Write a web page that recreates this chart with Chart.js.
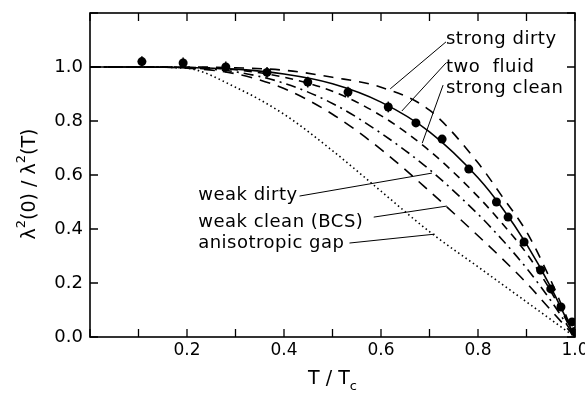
<!DOCTYPE html>
<html lang="en">
<head>
  <meta charset="UTF-8" />
  <title>Penetration depth vs temperature</title>
  <script src="https://cdn.jsdelivr.net/npm/chart.js"></script>
  <style>
    body { margin: 0; background: #fff; }
    #wrap { width: 585px; height: 397px; }
  </style>
</head>
<body>
  <div id="wrap"><canvas id="lambdaChart"></canvas></div>

  <script>
    // Reduced temperature grid used by the model curves
    const curveT = [0, 0.1, 0.2, 0.3, 0.4, 0.5, 0.6, 0.7, 0.8, 0.85, 0.9, 0.95, 1.0];

    // Model curves, values
    const strongDirty = [1, 1, 1, 0.997, 0.988, 0.962, 0.925, 0.84, 0.645, 0.52, 0.39, 0.21, 0];
    const twoFluid    = [1, 1, 0.998, 0.992, 0.974, 0.938, 0.870, 0.760, 0.590, 0.478, 0.344, 0.185, 0];
    const strongClean = [1, 1, 0.999, 0.99, 0.962, 0.91, 0.82, 0.69, 0.52, 0.42, 0.31, 0.17, 0];
    const weakDirty   = [1, 1, 0.997, 0.982, 0.94, 0.865, 0.755, 0.62, 0.455, 0.36, 0.255, 0.135, 0];
    const weakClean   = [1, 1, 0.996, 0.975, 0.92, 0.825, 0.695, 0.54, 0.375, 0.29, 0.2, 0.1, 0];
    const anisoGap    = [1, 1, 0.995, 0.925, 0.825, 0.69, 0.54, 0.39, 0.26, 0.195, 0.13, 0.065, 0];

    // Measured points
    const dataT   = [0.107, 0.192, 0.28, 0.365, 0.449, 0.532, 0.615, 0.672, 0.726, 0.781, 0.838, 0.862, 0.895, 0.929, 0.95, 0.971, 0.994, 0.999];
    const dataY   = [1.02, 1.015, 1.0, 0.98, 0.944, 0.907, 0.852, 0.793, 0.733, 0.622, 0.5, 0.444, 0.352, 0.248, 0.178, 0.111, 0.056, 0.02];
    const dataErr = [0.02, 0.02, 0.02, 0.02, 0.02, 0.02, 0.02, 0, 0, 0, 0, 0, 0, 0, 0, 0, 0, 0];

    // Curve labels and where their leader lines go (data coordinates)
    const labelText = ['strong dirty', 'two  fluid', 'strong clean', 'weak dirty', 'weak clean (BCS)', 'anisotropic gap'];
    const labelPos  = [[0.734, 1.085], [0.734, 0.981], [0.734, 0.904], [0.223, 0.507], [0.223, 0.407], [0.223, 0.33]];
    const leaderFrom = [[0.734, 1.093], [0.734, 1.015], [0.728, 0.933], [0.432, 0.522], [0.585, 0.444], [0.535, 0.348]];
    const leaderTo   = [[0.619, 0.919], [0.643, 0.837], [0.685, 0.718], [0.705, 0.607], [0.736, 0.485], [0.711, 0.381]];

    const FONT = 'DejaVu Sans';

    function toXY(xs, ys) {
      return xs.map((x, i) => ({ x: x, y: ys[i] }));
    }

    function curve(values, dash) {
      return {
        data: toXY(curveT, values),
        borderColor: '#000',
        borderWidth: 1.6,
        borderDash: dash,
        pointRadius: 0,
        cubicInterpolationMode: 'monotone',
        fill: false
      };
    }

    // draws [text, shift] pieces left to right, centred on x = 0 (shift 1 = superscript, -1 = subscript)
    function drawRich(ctx, parts, size) {
      const widths = parts.map(p => {
        ctx.font = (p[1] ? Math.round(size * 0.7) : size) + 'px "' + FONT + '"';
        return ctx.measureText(p[0]).width;
      });
      let x = -widths.reduce((s, w) => s + w, 0) / 2;
      parts.forEach((p, i) => {
        ctx.font = (p[1] ? Math.round(size * 0.7) : size) + 'px "' + FONT + '"';
        ctx.fillText(p[0], x, p[1] === 1 ? -size * 0.45 : (p[1] === -1 ? size * 0.3 : 0));
        x += widths[i];
      });
    }

    // Frame, inward ticks, error bars, labels and axis titles
    const decorations = {
      id: 'decorations',
      afterDatasetsDraw(chart) {
        const ctx = chart.ctx;
        const a = chart.chartArea;
        const xs = chart.scales.x, ys = chart.scales.y;
        ctx.save();
        ctx.strokeStyle = '#000';
        ctx.fillStyle = '#000';

        // error bars
        ctx.lineWidth = 1.5;
        dataT.forEach((t, i) => {
          if (!dataErr[i]) return;
          const px = xs.getPixelForValue(t);
          ctx.beginPath();
          ctx.moveTo(px, ys.getPixelForValue(dataY[i] - dataErr[i]));
          ctx.lineTo(px, ys.getPixelForValue(dataY[i] + dataErr[i]));
          ctx.stroke();
        });

        // frame
        ctx.lineWidth = 1.6;
        ctx.strokeRect(a.left, a.top, a.right - a.left, a.bottom - a.top);

        // inward ticks
        ctx.lineWidth = 1.3;
        xs.ticks.forEach(tk => {
          const px = xs.getPixelForValue(tk.value);
          ctx.beginPath();
          ctx.moveTo(px, a.bottom); ctx.lineTo(px, a.bottom - 8);
          ctx.moveTo(px, a.top); ctx.lineTo(px, a.top + 8);
          ctx.stroke();
        });
        ys.ticks.forEach(tk => {
          const py = ys.getPixelForValue(tk.value);
          ctx.beginPath();
          ctx.moveTo(a.left, py); ctx.lineTo(a.left + 8, py);
          ctx.moveTo(a.right, py); ctx.lineTo(a.right - 8, py);
          ctx.stroke();
        });

        // curve labels with leader lines
        ctx.lineWidth = 1;
        ctx.font = '18px "' + FONT + '"';
        ctx.letterSpacing = '0.5px';
        ctx.textAlign = 'left';
        ctx.textBaseline = 'alphabetic';
        labelText.forEach((txt, i) => {
          ctx.fillText(txt, xs.getPixelForValue(labelPos[i][0]), ys.getPixelForValue(labelPos[i][1]));
          ctx.beginPath();
          ctx.moveTo(xs.getPixelForValue(leaderFrom[i][0]), ys.getPixelForValue(leaderFrom[i][1]));
          ctx.lineTo(xs.getPixelForValue(leaderTo[i][0]), ys.getPixelForValue(leaderTo[i][1]));
          ctx.stroke();
        });
        ctx.letterSpacing = '0px';

        // y axis title
        ctx.textAlign = 'left';
        ctx.textBaseline = 'middle';
        ctx.save();
        ctx.translate(30, 184);
        ctx.rotate(-Math.PI / 2);
        drawRich(ctx, [['\u03bb', 0], ['2', 1], ['(0) / \u03bb', 0], ['2', 1], ['(T)', 0]], 19);
        ctx.restore();

        // x axis title with subscript c
        ctx.textBaseline = 'alphabetic';
        ctx.save();
        ctx.translate((a.left + a.right) / 2, 384);
        drawRich(ctx, [['T / T', 0], ['c', -1]], 19);
        ctx.restore();
        ctx.restore();
      }
    };

    const ctx = document.getElementById('lambdaChart').getContext('2d');
    new Chart(ctx, {
      type: 'line',
      data: {
        datasets: [
          curve(strongDirty, [10, 8]),
          curve(twoFluid, []),
          curve(strongClean, [8, 6]),
          curve(weakDirty, [10, 5, 2, 5]),
          curve(weakClean, [11, 8]),
          curve(anisoGap, [1.5, 3]),
          {
            data: toXY(dataT, dataY),
            showLine: false,
            pointRadius: 4.5,
            pointBackgroundColor: '#000',
            pointBorderColor: '#000',
            pointBorderWidth: 0
          }
        ]
      },
      options: {
        responsive: true,
        maintainAspectRatio: false,
        animation: false,
        layout: { padding: { left: 0, top: 13, right: 10, bottom: 0 } },
        plugins: { legend: { display: false }, tooltip: { enabled: false } },
        scales: {
          x: {
            type: 'linear',
            min: 0,
            max: 1.0,
            afterFit: s => { s.height = 60; s.paddingLeft = 0; s.paddingRight = 0; },
            grid: { display: false, drawTicks: false },
            border: { display: false },
            ticks: {
              stepSize: 0.1,
              autoSkip: false,
              maxRotation: 0,
              padding: 3,
              color: '#000',
              font: { family: FONT, size: 17 },
              callback: v => {
                const k = Math.round(v * 10);
                return (k > 0 && k % 2 === 0) ? (k / 10).toFixed(1) : '';
              }
            }
          },
          y: {
            type: 'linear',
            min: 0,
            max: 1.2,
            afterFit: s => { s.width = 90; s.paddingTop = 0; s.paddingBottom = 0; },
            grid: { display: false, drawTicks: false },
            border: { display: false },
            ticks: {
              stepSize: 0.2,
              padding: 7,
              color: '#000',
              font: { family: FONT, size: 18 },
              callback: v => (v < 1.1 ? v.toFixed(1) : '')
            }
          }
        }
      },
      plugins: [decorations]
    });
  </script>
</body>
</html>
